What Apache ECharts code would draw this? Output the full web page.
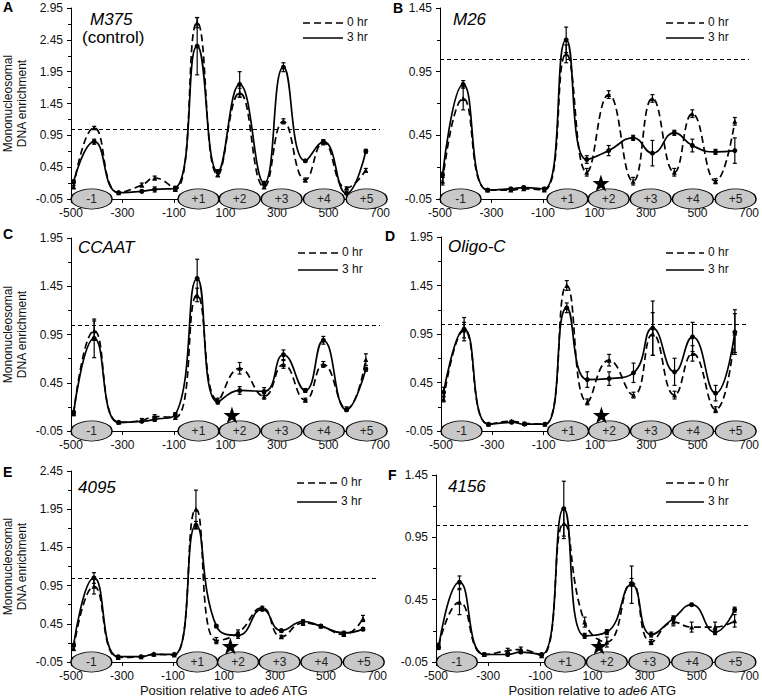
<!DOCTYPE html>
<html>
<head>
<meta charset="utf-8">
<script src="https://cdn.jsdelivr.net/npm/echarts@6/dist/echarts.min.js"></script>
<style>
html,body{margin:0;padding:0;background:#fff;}
#c{width:762px;height:698px;}
</style>
</head>
<body>
<div id="c"></div>
<script>
// ---- data ----
const positions = [-490, -410, -315, -225, -175, -95, -10, 70, 155, 250, 325, 410, 480, 570, 645];
const xTicks = [-500, -300, -100, 100, 300, 500, 700];
const nucLabels = ['-1', '+1', '+2', '+3', '+4', '+5'];
const nucCenters = [-420, -5, 155, 318, 482, 648];
const refLevel = 1.05;
const starPos = 125;

const panelLetters = ['A', 'B', 'C', 'D', 'E', 'F'];
const panelNames = ['M375', 'M26', 'CCAAT', 'Oligo-C', '4095', '4156'];
const yTops = [2.95, 1.45, 1.95, 1.95, 2.45, 1.45];

// A  M375 (control)
const a0  = [0.14, 1.07, 0.05, 0.17, 0.28, 0.10, 2.72, 0.33, 1.62, 0.14, 1.17, 0.25, 0.84, 0.12, 0.40];
const a0e = [0.02, 0.02, 0.01, 0.03, 0.03, 0.02, 0.08, 0.03, 0.07, 0.02, 0.04, 0.03, 0.04, 0.02, 0.03];
const a3  = [0.22, 0.85, 0.05, 0.07, 0.10, 0.12, 2.35, 0.38, 1.75, 0.20, 2.02, 0.55, 0.85, 0.04, 0.70];
const a3e = [0.03, 0.04, 0.01, 0.02, 0.04, 0.03, 0.45, 0.03, 0.20, 0.02, 0.07, 0.02, 0.03, 0.01, 0.03];
// B  M26
const b0  = [0.09, 0.74, 0.02, 0.02, 0.03, 0.02, 1.09, 0.16, 0.77, 0.09, 0.74, 0.16, 0.62, 0.09, 0.56];
const b0e = [0.03, 0.09, 0.01, 0.01, 0.01, 0.01, 0.07, 0.03, 0.03, 0.03, 0.03, 0.03, 0.03, 0.02, 0.03];
const b3  = [0.14, 0.85, 0.02, 0.03, 0.04, 0.03, 1.20, 0.26, 0.33, 0.43, 0.31, 0.47, 0.37, 0.32, 0.33];
const b3e = [0.02, 0.03, 0.01, 0.01, 0.01, 0.01, 0.10, 0.03, 0.04, 0.02, 0.10, 0.02, 0.05, 0.02, 0.10];
// C  CCAAT
const c0  = [0.13, 0.99, 0.04, 0.06, 0.10, 0.09, 1.36, 0.27, 0.60, 0.31, 0.64, 0.27, 0.64, 0.18, 0.69];
const c0e = [0.02, 0.10, 0.01, 0.02, 0.02, 0.02, 0.07, 0.02, 0.06, 0.03, 0.04, 0.02, 0.03, 0.02, 0.06];
const c3  = [0.14, 0.91, 0.04, 0.05, 0.07, 0.12, 1.53, 0.25, 0.37, 0.36, 0.74, 0.37, 0.89, 0.17, 0.59];
const c3e = [0.02, 0.20, 0.01, 0.01, 0.02, 0.02, 0.20, 0.02, 0.04, 0.04, 0.05, 0.02, 0.04, 0.01, 0.02];
// D  Oligo-C
const d0  = [0.28, 0.99, 0.02, 0.05, 0.03, 0.02, 1.45, 0.25, 0.68, 0.32, 0.95, 0.32, 0.75, 0.17, 0.96];
const d0e = [0.03, 0.08, 0.01, 0.01, 0.01, 0.01, 0.05, 0.03, 0.06, 0.03, 0.22, 0.04, 0.08, 0.03, 0.20];
const d3  = [0.35, 1.00, 0.02, 0.04, 0.02, 0.02, 1.22, 0.48, 0.49, 0.55, 1.01, 0.56, 0.92, 0.34, 0.97];
const d3e = [0.05, 0.12, 0.01, 0.01, 0.01, 0.01, 0.05, 0.08, 0.07, 0.10, 0.28, 0.14, 0.15, 0.08, 0.23];
// E  4095
const e0  = [0.13, 0.94, 0.01, 0.02, 0.05, 0.04, 1.95, 0.23, 0.33, 0.66, 0.28, 0.46, 0.42, 0.31, 0.52];
const e0e = [0.03, 0.10, 0.01, 0.01, 0.01, 0.01, 0.25, 0.04, 0.04, 0.02, 0.02, 0.03, 0.02, 0.02, 0.04];
const e3  = [0.17, 1.05, 0.02, 0.02, 0.05, 0.05, 1.74, 0.42, 0.30, 0.64, 0.36, 0.48, 0.42, 0.33, 0.38];
const e3e = [0.02, 0.07, 0.01, 0.01, 0.01, 0.01, 0.05, 0.02, 0.04, 0.02, 0.02, 0.02, 0.02, 0.02, 0.02];
// F  4156
const f0  = [0.08, 0.43, 0.01, 0.04, 0.05, 0.00, 1.06, 0.27, 0.11, 0.59, 0.11, 0.27, 0.23, 0.23, 0.28];
const f0e = [0.02, 0.10, 0.01, 0.02, 0.02, 0.01, 0.12, 0.04, 0.04, 0.03, 0.02, 0.03, 0.04, 0.04, 0.05];
const f3  = [0.07, 0.59, 0.01, 0.01, 0.03, 0.01, 1.18, 0.16, 0.19, 0.57, 0.17, 0.30, 0.41, 0.19, 0.37];
const f3e = [0.02, 0.05, 0.01, 0.01, 0.01, 0.01, 0.22, 0.02, 0.02, 0.15, 0.02, 0.02, 0.01, 0.02, 0.02];

const hr0 = [a0, b0, c0, d0, e0, f0];
const hr0err = [a0e, b0e, c0e, d0e, e0e, f0e];
const hr3 = [a3, b3, c3, d3, e3, f3];
const hr3err = [a3e, b3e, c3e, d3e, e3e, f3e];

// ---- layout ----
const OFFX = 500;   // axis counts ticks from min, so shift to make min a multiple of interval
const OFFY = 0.05;
const FONT = 'Liberation Sans, Arial, sans-serif';
const grids = [
  {left: 67,  top: 8,   width: 313, height: 191},
  {left: 440, top: 8,   width: 313, height: 191},
  {left: 67,  top: 238, width: 313, height: 193},
  {left: 441, top: 237, width: 312, height: 194},
  {left: 66,  top: 471, width: 311, height: 191},
  {left: 436, top: 475, width: 313, height: 188}
];
const titlePos = [[90, 20], [453, 20], [78, 248], [448, 247], [78, 488], [448, 487]];
const letterPos = [[3, 8], [393, 9], [3, 235], [385, 237], [3, 473], [388, 476]];
const legendPos = [[303, 23, 15], [666, 23, 15], [298, 253, 17], [666, 253, 17], [297, 483, 19], [666, 483, 19]];

const starPath = 'path://M50,0 L61.8,35.1 L98.8,35.1 L68.9,57 L80.3,92 L50,70.4 L19.7,92 L31.1,57 L1.2,35.1 L38.2,35.1 Z';

const xAxes = [], yAxes = [], series = [], graphics = [];

function errRender(params, api) {
  const x = api.value(0);
  const lo = api.coord([x, api.value(1)]);
  const hi = api.coord([x, api.value(2)]);
  const st = {stroke: '#000', lineWidth: 1.2};
  return {
    type: 'group',
    children: [
      {type: 'line', shape: {x1: lo[0], y1: lo[1], x2: hi[0], y2: hi[1]}, style: st},
      {type: 'line', shape: {x1: hi[0] - 2, y1: hi[1], x2: hi[0] + 2, y2: hi[1]}, style: st},
      {type: 'line', shape: {x1: lo[0] - 2, y1: lo[1], x2: lo[0] + 2, y2: lo[1]}, style: st}
    ]
  };
}

for (let i = 0; i < 6; i++) {
  const left = (i % 2 === 0);
  const bottom = (i >= 4);
  xAxes.push({
    type: 'value', gridIndex: i, min: 0, max: 1200, interval: 200,
    axisLine: {lineStyle: {color: '#000', width: 1}},
    axisTick: {show: true, length: 4, lineStyle: {color: '#000'}},
    splitLine: {show: false},
    axisLabel: {color: '#111', fontSize: 12, fontFamily: FONT, margin: 8,
      formatter: v => String(Math.round(v - OFFX))},
    name: bottom ? 'Position relative to {i|ade6} ATG' : '',
    nameLocation: 'middle', nameGap: 22,
    nameTextStyle: {color: '#111', fontSize: 13, fontFamily: FONT,
      rich: {i: {fontStyle: 'italic', fontSize: 13, fontFamily: FONT, color: '#111'}}}
  });
  yAxes.push({
    type: 'value', gridIndex: i, min: 0, max: yTops[i] + OFFY, interval: 0.5,
    axisLine: {show: true, lineStyle: {color: '#000', width: 1}},
    axisTick: {show: true, length: 4, lineStyle: {color: '#000'}},
    minorTick: {show: true, splitNumber: 2, length: 3, lineStyle: {color: '#000'}},
    splitLine: {show: false},
    axisLabel: {color: '#111', fontSize: 12, fontFamily: FONT, margin: 8,
      formatter: v => (v - OFFY).toFixed(2)},
    name: left ? 'Mononucleosomal\nDNA enrichment' : '',
    nameLocation: 'middle', nameGap: 42, nameRotate: 90,
    nameTextStyle: {color: '#111', fontSize: 12, fontFamily: FONT, lineHeight: 14}
  });

  const base = {xAxisIndex: i, yAxisIndex: i};
  // error bars
  series.push(Object.assign({
    type: 'custom', name: 'err0', renderItem: errRender, z: 3, silent: true,
    encode: {x: 0, y: [1, 2]},
    data: positions.map((p, k) => [p + OFFX, hr0[i][k] - hr0err[i][k] + OFFY, hr0[i][k] + hr0err[i][k] + OFFY])
  }, base));
  series.push(Object.assign({
    type: 'custom', name: 'err3', renderItem: errRender, z: 3, silent: true,
    encode: {x: 0, y: [1, 2]},
    data: positions.map((p, k) => [p + OFFX, hr3[i][k] - hr3err[i][k] + OFFY, hr3[i][k] + hr3err[i][k] + OFFY])
  }, base));
  // 0 hr
  series.push(Object.assign({
    type: 'line', name: '0 hr', smooth: 0.5, symbol: 'triangle', symbolSize: 5,
    showSymbol: true, z: 4,
    lineStyle: {color: '#000', width: 1.7, type: [7, 4]},
    itemStyle: {color: '#000'},
    data: positions.map((p, k) => [p + OFFX, hr0[i][k] + OFFY])
  }, base));
  // 3 hr
  series.push(Object.assign({
    type: 'line', name: '3 hr', smooth: 0.5, symbol: 'circle', symbolSize: 5,
    showSymbol: true, z: 5,
    lineStyle: {color: '#000', width: 1.7},
    itemStyle: {color: '#000'},
    data: positions.map((p, k) => [p + OFFX, hr3[i][k] + OFFY]),
    markLine: {silent: true, symbol: 'none', label: {show: false},
      lineStyle: {color: '#000', width: 1, type: [4, 3]},
      data: [{yAxis: refLevel + OFFY}]}
  }, base));
  // nucleosome ellipses
  series.push(Object.assign({
    type: 'scatter', name: 'nuc', z: 6, clip: false, silent: true,
    symbol: 'circle', symbolSize: [41, 20],
    itemStyle: {color: '#c8c8c8', borderColor: '#000', borderWidth: 1, opacity: 1},
    label: {show: true, position: 'inside', color: '#222', fontSize: 12, fontFamily: FONT,
      formatter: p => p.name},
    data: nucCenters.map((c, k) => ({name: nucLabels[k], value: [c + OFFX, 0]}))
  }, base));
  // star
  if (i > 0) {
    series.push(Object.assign({
      type: 'scatter', name: 'star', z: 7, clip: false, silent: true,
      symbol: starPath, symbolSize: 17, symbolOffset: [0, -16],
      itemStyle: {color: '#000', opacity: 1},
      data: [[starPos + OFFX, 0]]
    }, base));
  }

  // titles
  graphics.push({type: 'text', left: letterPos[i][0], top: letterPos[i][1] - 8,
    style: {text: panelLetters[i], font: 'bold 14px ' + FONT, fill: '#000'}});
  graphics.push({type: 'text', left: titlePos[i][0], top: titlePos[i][1] - 9,
    style: {text: panelNames[i], font: 'italic 17px ' + FONT, fill: '#000'}});
  // legend
  const [lx, ly, dy] = legendPos[i];
  const ll = (i % 2 === 0) ? 40 : 38;
  graphics.push({type: 'line', shape: {x1: lx, y1: ly, x2: lx + ll, y2: ly},
    style: {stroke: '#000', lineWidth: 1.6, lineDash: [7, 4]}});
  graphics.push({type: 'line', shape: {x1: lx, y1: ly + dy, x2: lx + ll, y2: ly + dy},
    style: {stroke: '#000', lineWidth: 1.6}});
  graphics.push({type: 'text', left: lx + ll + 4, top: ly - 7,
    style: {text: '0 hr', font: '12px ' + FONT, fill: '#111'}});
  graphics.push({type: 'text', left: lx + ll + 4, top: ly + dy - 7,
    style: {text: '3 hr', font: '12px ' + FONT, fill: '#111'}});
}
graphics.push({type: 'text', left: 82, top: 29,
  style: {text: '(control)', font: '17px ' + FONT, fill: '#000'}});

const chart = echarts.init(document.getElementById('c'), null, {renderer: 'svg'});
chart.setOption({
  animation: false,
  backgroundColor: '#fff',
  grid: grids,
  xAxis: xAxes,
  yAxis: yAxes,
  series: series,
  graphic: graphics
});
</script>
</body>
</html>
